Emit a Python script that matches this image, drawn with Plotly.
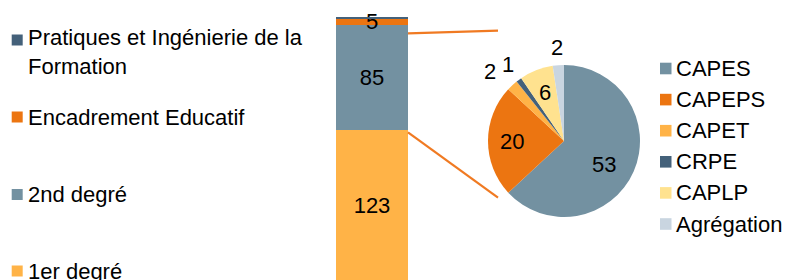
import math
import plotly.graph_objects as go

W, H = 785, 280
OX, OY = 0, 0  # page offset of the plot (body margin removed by post_script)
FONT = "Liberation Sans, Arial, sans-serif"

# ---- data ----
bar_names = ["1er degré", "2nd degré", "Encadrement Educatif", "Pratiques et Ingénierie de la Formation"]
bar_legend = ["1er degré", "2nd degré", "Encadrement Educatif", "Pratiques et Ingénierie de la<br>Formation"]
bar_values = [123, 85, 5, 1]
bar_labels = ["123", "85", "5", ""]

pie_labels = ["CAPES", "CAPEPS", "CAPET", "CRPE", "CAPLP", "Agrégation"]
pie_values = [53, 20, 2, 1, 6, 2]

# ---- styles ----
bar_colors = ["#FFB347", "#7391A1", "#EC7511", "#44617A"]
pie_colors = ["#7391A1", "#EC7511", "#FFB347", "#44617A", "#FFE28F", "#C9D5E0"]
pie_inside = [True, True, False, False, True, False]
pie_nudge_x = [-7, 0, -10, 0, 0, 0]
pie_nudge_y = [3, 0, 0, 0, 0, 0]


def fx(x):
    return (x - OX) / W


def fy(y):
    return 1 - (y - OY) / H


fig = go.Figure()

for name, v, lab, col in zip(bar_names, bar_values, bar_labels, bar_colors):
    fig.add_trace(go.Bar(
        x=[0], y=[v], name=name, width=1,
        marker=dict(color=col, line=dict(width=0)),
        text=[lab], textposition="inside", insidetextanchor="middle",
        textangle=0, constraintext="none",
        textfont=dict(family=FONT, size=22, color="#000000"),
        showlegend=False, cliponaxis=False,
    ))

# pie geometry (screen px of reference)
PCX, PCY, PR = 564, 141, 76
fig.add_trace(go.Pie(
    labels=pie_labels, values=pie_values, sort=False,
    direction="clockwise", rotation=0,
    marker=dict(colors=pie_colors, line=dict(width=0)),
    textinfo="none",
    domain=dict(x=[fx(PCX - PR), fx(PCX + PR)], y=[fy(PCY + PR), fy(PCY - PR)]),
    showlegend=False,
))

annotations = []
shapes = []

# value labels for the slices, placed along each slice's mid-angle
total = sum(pie_values)
cum = 0
for v, ins, nx, ny in zip(pie_values, pie_inside, pie_nudge_x, pie_nudge_y):
    theta = 2 * math.pi * (cum + v / 2) / total
    cum += v
    txt = str(v)
    if ins:
        R = 0.68 * PR
    else:
        hw, hh = 6.5 * len(txt), 12
        R = PR + 5 + hw * abs(math.sin(theta)) + hh * abs(math.cos(theta))
    sx = PCX + R * math.sin(theta) + nx
    sy = PCY - R * math.cos(theta) + ny
    annotations.append(dict(
        text=txt, xref="paper", yref="paper", x=fx(sx), y=fy(sy),
        xanchor="center", yanchor="middle", showarrow=False,
        font=dict(family=FONT, size=22, color="#000000")))

# left legend (bar series, top of stack first)
left_items = list(zip(bar_legend, bar_colors))[::-1]
left_y = [40, 117, 194.5, 271]
for (txt, col), cy in zip(left_items, left_y):
    shapes.append(dict(type="rect", xref="paper", yref="paper",
                       x0=fx(11.7), x1=fx(22.7),
                       y0=fy(cy + 5.5), y1=fy(cy - 5.5),
                       fillcolor=col, line=dict(width=0)))
    multi = "<br>" in txt
    annotations.append(dict(
        text=txt, xref="paper", yref="paper", x=fx(26),
        y=fy((cy - 17) if multi else cy),
        xanchor="left", yanchor="top" if multi else "middle",
        align="left", showarrow=False,
        font=dict(family=FONT, size=22, color="#000000")))

# right legend (pie slices)
for i, (txt, col) in enumerate(zip(pie_labels, pie_colors)):
    cy = 68.5 + i * 31.1
    shapes.append(dict(type="rect", xref="paper", yref="paper",
                       x0=fx(660), x1=fx(671.5),
                       y0=fy(cy + 5.8), y1=fy(cy - 5.8),
                       fillcolor=col, line=dict(width=0)))
    annotations.append(dict(
        text=txt, xref="paper", yref="paper", x=fx(673.5), y=fy(cy),
        xanchor="left", yanchor="middle", showarrow=False,
        font=dict(family=FONT, size=22, color="#000000")))

# connector lines from the 2nd degré segment to the pie
for (x0, y0, x1, y1) in [(408, 33.3, 498, 30.7), (408, 132.3, 498, 197.7)]:
    shapes.append(dict(type="line", xref="paper", yref="paper",
                       x0=fx(x0), y0=fy(y0), x1=fx(x1), y1=fy(y1),
                       line=dict(color="#F07A22", width=2.2)))

# bar axis: top of stack at screen y 17.3, 1.235 px per unit
top_val = sum(bar_values)
ppu = 1.235
y_hi = top_val + (17.3 - OY) / ppu
y_lo = y_hi - H / ppu

fig.update_layout(
    width=W, height=H,
    margin=dict(l=0, r=0, t=0, b=0),
    paper_bgcolor="white", plot_bgcolor="white",
    barmode="stack", bargap=0,
    xaxis=dict(domain=[fx(336), fx(408)], range=[-0.5, 0.5], visible=False, fixedrange=True),
    yaxis=dict(range=[y_lo, y_hi], visible=False, fixedrange=True),
    annotations=annotations, shapes=shapes,
    font=dict(family=FONT, size=22, color="#000000"),
    hovermode=False,
)

fig.write_html(
    "out.html",
    config={"displayModeBar": False, "staticPlot": True},
    post_script="document.body.style.margin='0';document.documentElement.style.overflow='hidden';document.body.style.overflow='hidden';",
)
